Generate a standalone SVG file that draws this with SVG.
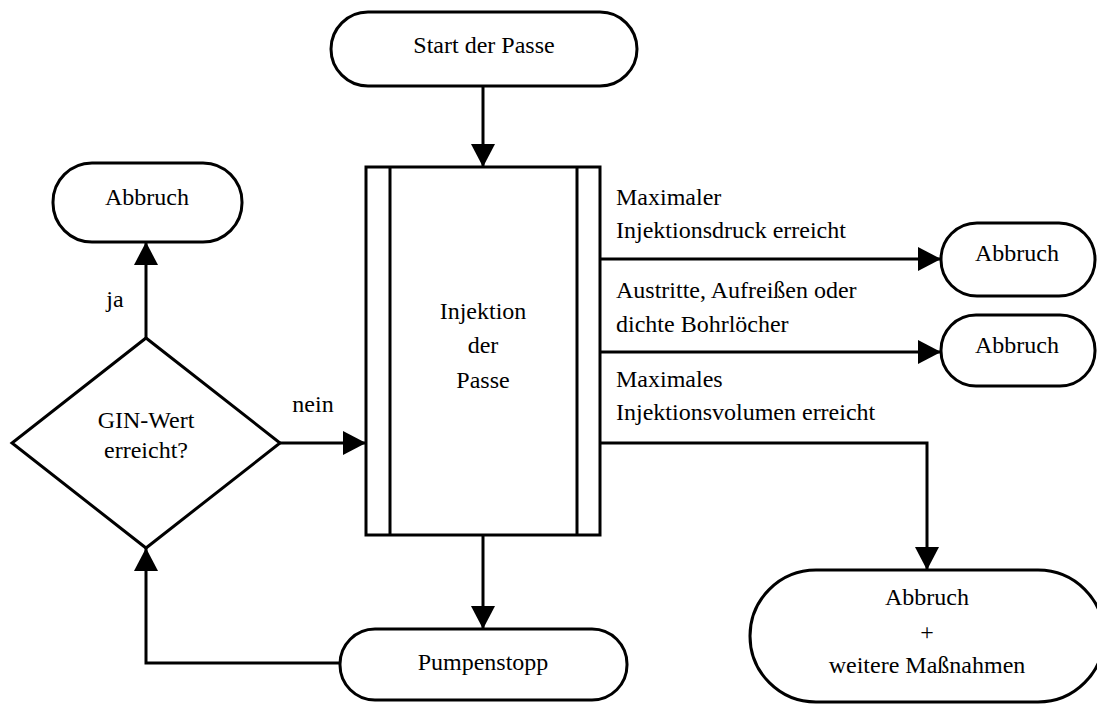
<svg xmlns="http://www.w3.org/2000/svg" width="1097" height="704" viewBox="0 0 1097 704">
  <style>
    .shape { fill: #fff; stroke: #000; stroke-width: 3; }
    .line { fill: none; stroke: #000; stroke-width: 3; }
    .c { text-anchor: middle; }
  </style>
  <defs>
    <marker id="arrow" markerUnits="userSpaceOnUse" markerWidth="24" markerHeight="24" refX="23" refY="12" orient="auto">
      <path d="M0,0 L23,12 L0,24 Z" fill="#000"/>
    </marker>
  </defs>

  <rect width="1097" height="704" fill="#fff"/>

  <g font-family="'Liberation Serif', serif" font-size="24" fill="#000">
    <!-- connectors and their labels -->
    <g id="connectors">
      <path class="line" d="M483,86 V167" marker-end="url(#arrow)"/>
      <path class="line" d="M483,535 V629" marker-end="url(#arrow)"/>
      <path class="line" d="M340,663 H146 V548" marker-end="url(#arrow)"/>
      <path class="line" d="M146,338 V242" marker-end="url(#arrow)"/>
      <path class="line" d="M280,443 H366" marker-end="url(#arrow)"/>
      <path class="line" d="M600,259 H941" marker-end="url(#arrow)"/>
      <path class="line" d="M600,352 H941" marker-end="url(#arrow)"/>
      <path class="line" d="M600,443 H927 V570" marker-end="url(#arrow)"/>
      <text x="115" y="307" class="c">ja</text>
      <text x="313" y="412" class="c">nein</text>
      <text x="616" y="205">Maximaler</text>
      <text x="616" y="238">Injektionsdruck erreicht</text>
      <text x="616" y="298">Austritte, Aufreißen oder</text>
      <text x="616" y="332">dichte Bohrlöcher</text>
      <text x="616" y="387">Maximales</text>
      <text x="616" y="420">Injektionsvolumen erreicht</text>
    </g>

    <g id="start">
      <rect class="shape" x="331" y="12" width="306" height="74" rx="37"/>
      <text x="484" y="53" class="c">Start der Passe</text>
    </g>

    <g id="injektion">
      <rect class="shape" x="366" y="167" width="234" height="368"/>
      <line class="line" x1="390" y1="167" x2="390" y2="535"/>
      <line class="line" x1="577" y1="167" x2="577" y2="535"/>
      <text x="483" y="319" class="c">Injektion</text>
      <text x="483" y="353" class="c">der</text>
      <text x="483" y="388" class="c">Passe</text>
    </g>

    <g id="pumpenstopp">
      <rect class="shape" x="340" y="629" width="287" height="71" rx="35"/>
      <text x="483" y="670" class="c">Pumpenstopp</text>
    </g>

    <g id="gin-entscheidung">
      <polygon class="shape" points="146,338 280,443 146,548 12,443"/>
      <text x="146" y="428" class="c">GIN-Wert</text>
      <text x="146" y="458" class="c">erreicht?</text>
    </g>

    <g id="abbruch-gin">
      <rect class="shape" x="53" y="163" width="189" height="79" rx="39"/>
      <text x="147" y="205" class="c">Abbruch</text>
    </g>

    <g id="abbruch-druck">
      <rect class="shape" x="941" y="223" width="154" height="73" rx="36"/>
      <text x="1017" y="261" class="c">Abbruch</text>
    </g>

    <g id="abbruch-austritte">
      <rect class="shape" x="941" y="315" width="154" height="71" rx="35"/>
      <text x="1017" y="353" class="c">Abbruch</text>
    </g>

    <g id="abbruch-volumen">
      <rect class="shape" x="750" y="570" width="354" height="132" rx="66"/>
      <text x="927" y="605" class="c">Abbruch</text>
      <text x="927" y="640" class="c">+</text>
      <text x="927" y="673" class="c">weitere Maßnahmen</text>
    </g>
  </g>
</svg>
